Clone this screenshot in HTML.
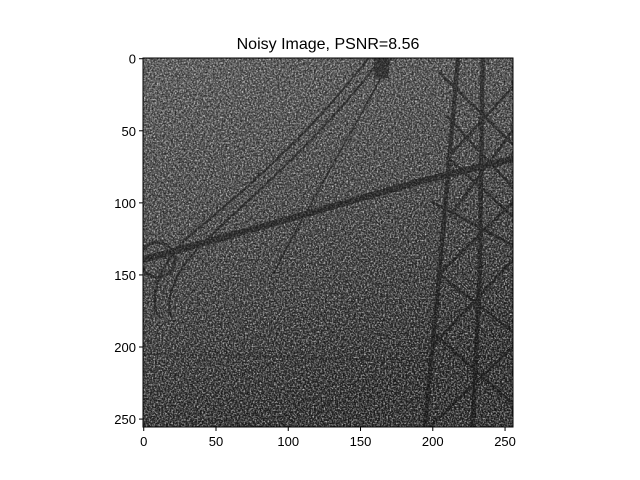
<!DOCTYPE html>
<html><head><meta charset="utf-8"><style>
body{margin:0;background:#fff;}
svg{display:block;font-family:"Liberation Sans","DejaVu Sans",sans-serif;}
</style></head><body>
<svg id="chart" width="640" height="480" viewBox="0 0 640 480">
<defs>
<linearGradient id="bg" x1="0" y1="0" x2="0.3" y2="1">
<stop offset="0" stop-color="#5a5a5a"/><stop offset="0.45" stop-color="#464646"/><stop offset="1" stop-color="#242424"/>
</linearGradient>
<filter id="noise" x="0" y="0" width="100%" height="100%">
<feTurbulence type="fractalNoise" baseFrequency="0.9" numOctaves="2" seed="3"/>
<feColorMatrix type="matrix" values="0 0 0 0 1  0 0 0 0 1  0 0 0 0 1  1.7 0 0 0 -0.68"/>
</filter>
<filter id="noise2" x="0" y="0" width="100%" height="100%">
<feTurbulence type="fractalNoise" baseFrequency="0.8" numOctaves="2" seed="9"/>
<feColorMatrix type="matrix" values="0 0 0 0 0  0 0 0 0 0  0 0 0 0 0  1.5 0 0 0 -0.6"/>
</filter>
</defs>
<text x="328" y="49" font-size="16" text-anchor="middle">Noisy Image, PSNR=8.56</text>
<svg x="143" y="58" width="370" height="369" viewBox="0 0 256 256" preserveAspectRatio="none">
<rect width="256" height="256" fill="url(#bg)"/>
<rect width="256" height="256" filter="url(#noise)"/>
<rect width="256" height="256" filter="url(#noise2)"/>
<g fill="none" stroke="#111" opacity="0.5">
<path d="M0 140 L100 112 L190 86 L256 70" stroke-width="4.5"/>
<path d="M165 0 C120 60 70 100 40 130 C20 150 15 170 20 180" stroke-width="1.5"/>
<path d="M156 0 C110 60 60 100 30 125 C10 145 5 165 10 178" stroke-width="1.5"/>
<path d="M172 0 C140 60 110 110 90 150" stroke-width="1.2"/>
<circle cx="10" cy="140" r="12" stroke-width="2"/>
<path d="M195 256 L205 150 L218 0" stroke-width="3"/>
<path d="M228 256 L233 150 L235 0" stroke-width="3"/>
<path d="M205 10 L256 60 M210 40 L256 90 M212 70 L256 110 M256 20 L210 70 M256 50 L212 110 M205 150 L256 190 M256 140 L200 200 M200 190 L256 240 M256 200 L198 256 M200 100 L256 130 M256 100 L205 150" stroke-width="1.8"/>
<path d="M0 205 L200 210" stroke-width="1.2" opacity="0.5"/>
<rect x="160" y="0" width="10" height="14" fill="#111" stroke="none"/>
</g>
</svg>
<rect x="143" y="58" width="370" height="369" fill="none" stroke="#000" stroke-width="1"/>
<g id="xaxis"></g>
<g id="yaxis"></g>
</svg>
<script>
const xTicks=[0,50,100,150,200,250];
const yTicks=[0,50,100,150,200,250];
const x0=143,y0=58,w=370,h=369,n=256;
const sx=v=>x0+(v+0.5)*w/n, sy=v=>y0+(v+0.5)*h/n;
const NS="http://www.w3.org/2000/svg";
const xa=document.getElementById('xaxis'),ya=document.getElementById('yaxis');
xTicks.forEach(t=>{
 const l=document.createElementNS(NS,'line');
 
 
 l.setAttribute('x1',sx(t));l.setAttribute('x2',sx(t));l.setAttribute('y1',y0+h);l.setAttribute('y2',y0+h+4);l.setAttribute('stroke','#000');
 xa.appendChild(l);
 const tx=document.createElementNS(NS,'text');
 
 
 tx.setAttribute('x',sx(t));tx.setAttribute('y',y0+h+19);tx.setAttribute('font-size','13');tx.setAttribute('text-anchor','middle');
 tx.textContent=t;xa.appendChild(tx);
});
yTicks.forEach(t=>{
 const l=document.createElementNS(NS,'line');
 
 
 l.setAttribute('y1',sy(t));l.setAttribute('y2',sy(t));l.setAttribute('x1',x0-4);l.setAttribute('x2',x0);l.setAttribute('stroke','#000');
 ya.appendChild(l);
 const tx=document.createElementNS(NS,'text');
 
 
 tx.setAttribute('x',x0-7);tx.setAttribute('y',sy(t)+5);tx.setAttribute('font-size','13');tx.setAttribute('text-anchor','end');
 tx.textContent=t;ya.appendChild(tx);
});
</script>
</body></html>
